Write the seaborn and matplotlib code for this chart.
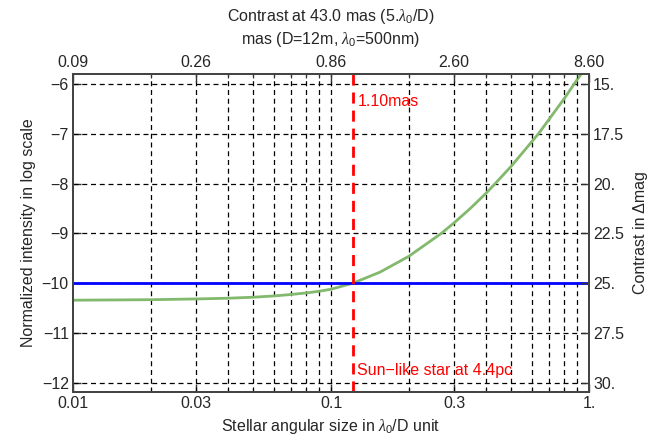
import matplotlib
matplotlib.use("Agg")
import matplotlib.pyplot as plt
import seaborn as sns
import numpy as np
import pandas as pd
from matplotlib.ticker import LogLocator, NullFormatter

# ---- data ----
size_ld = [0.01, 0.02, 0.03, 0.04, 0.05, 0.06, 0.07, 0.08, 0.09, 0.1,
           0.122, 0.155, 0.2, 0.268, 0.3, 0.346, 0.4, 0.433, 0.5, 0.6,
           0.637, 0.7, 0.8, 0.9, 1.0]
log_intensity = [-10.345, -10.335, -10.32, -10.305, -10.285, -10.26, -10.23,
                 -10.20, -10.165, -10.125, -10.0, -9.78, -9.465, -9.0, -8.79,
                 -8.505, -8.19, -8.0, -7.65, -7.16, -7.0, -6.71, -6.30, -5.91,
                 -5.58]
threshold = -10.0
star_size = 0.122
bottom_ticks = [0.01, 0.03, 0.1, 0.3, 1.0]
bottom_labels = ["0.01", "0.03", "0.1", "0.3", "1."]
top_labels = ["0.09", "0.26", "0.86", "2.60", "8.60"]
left_ticks = [-6, -7, -8, -9, -10, -11, -12]
right_labels = ["15.", "17.5", "20.", "22.5", "25.", "27.5", "30."]

sns.set_style("white")
plt.rcParams['font.family'] = ['Liberation Sans', 'DejaVu Sans']
plt.rcParams['mathtext.fontset'] = 'custom'
plt.rcParams['mathtext.rm'] = 'Liberation Sans'
plt.rcParams['mathtext.it'] = 'Liberation Serif:italic'

fig = plt.figure(figsize=(6.47, 4.38), dpi=100)
ax = fig.add_axes([0.1128, 0.105, 0.9104 - 0.1128, 0.831 - 0.105])

xlim = (0.01, 1.0)
ylim = (-12.19, -5.80)

df = pd.DataFrame({"x": size_ld, "y": log_intensity})
sns.lineplot(data=df, x="x", y="y", ax=ax, color="#82b96d", lw=2, sort=True)
ax.axhline(threshold, color="#0000ff", lw=2, zorder=3)
ax.axvline(star_size, color="#ff0000", lw=2, ls=(0, (4, 2.5)), zorder=4)

ax.set_xscale("log")
ax.set_xlim(*xlim)
ax.set_ylim(*ylim)

# grid
grid_kw = dict(color="black", lw=0.9, ls=(0, (4, 3)), zorder=1)
for v in left_ticks:
    ax.axhline(v, **grid_kw)
for d in [0.01, 0.1]:
    for m in range(1, 10):
        v = d * m
        if xlim[0] < v < xlim[1]:
            ax.axvline(v, **grid_kw)

ax.set_xticks(bottom_ticks)
ax.set_xticklabels(bottom_labels)
ax.xaxis.set_minor_locator(LogLocator(base=10, subs=np.arange(2, 10)))
ax.xaxis.set_minor_formatter(NullFormatter())
ax.set_yticks(left_ticks)
ax.set_yticklabels([f"\u2212{abs(v)}" for v in left_ticks])

fs = 11.5
ax.tick_params(axis="both", which="major", direction="in", length=6, width=1,
               labelsize=fs, color="#333333", pad=3)
ax.tick_params(axis="both", which="minor", direction="in", length=3, width=0.8,
               color="#333333")
ax.set_xlabel(r"Stellar angular size in $\lambda_0$/D unit", fontsize=fs, labelpad=4)
ax.set_ylabel("Normalized intensity in log scale", fontsize=fs, labelpad=4)

for s in ax.spines.values():
    s.set_color("#444444")
    s.set_linewidth(1.3)

# right axis
ax2 = ax.twinx()
ax2.set_ylim(*ylim)
ax2.set_yticks(left_ticks)
ax2.set_yticklabels(right_labels)
ax2.tick_params(axis="y", which="major", direction="in", length=6, width=1,
                labelsize=fs, color="#333333", pad=3)
ax2.set_ylabel("Contrast in \u0394mag", fontsize=fs, labelpad=6)
for s in ax2.spines.values():
    s.set_color("#444444")
    s.set_linewidth(1.3)

# top axis
ax3 = ax.twiny()
ax3.set_xscale("log")
ax3.set_xlim(*xlim)
ax3.set_xticks(bottom_ticks)
ax3.set_xticklabels(top_labels)
ax3.xaxis.set_minor_locator(LogLocator(base=10, subs=np.arange(2, 10)))
ax3.xaxis.set_minor_formatter(NullFormatter())
ax3.tick_params(axis="x", which="major", direction="in", length=6, width=1,
                labelsize=fs, color="#333333", pad=3)
ax3.tick_params(axis="x", which="minor", direction="in", length=3, width=0.8,
                color="#333333")
ax3.set_xlabel(r"mas (D=12m, $\lambda_0$=500nm)", fontsize=fs, labelpad=8)
for s in ax3.spines.values():
    s.set_color("#444444")
    s.set_linewidth(1.3)

fig.text(0.5 * (0.1128 + 0.9104), 1 - 16 / 438, r"Contrast at 43.0 mas (5.$\lambda_0$/D)",
         ha="center", va="center", fontsize=fs)

ax.text(0.1265, -6.35, "1.10mas", color="#ff0000", fontsize=fs, ha="left", va="center")
ax.text(0.1265, -11.75, "Sun\u2212like star at 4.4pc", color="#ff0000", fontsize=fs,
        ha="left", va="center")

fig.savefig("out.png", dpi=100)
